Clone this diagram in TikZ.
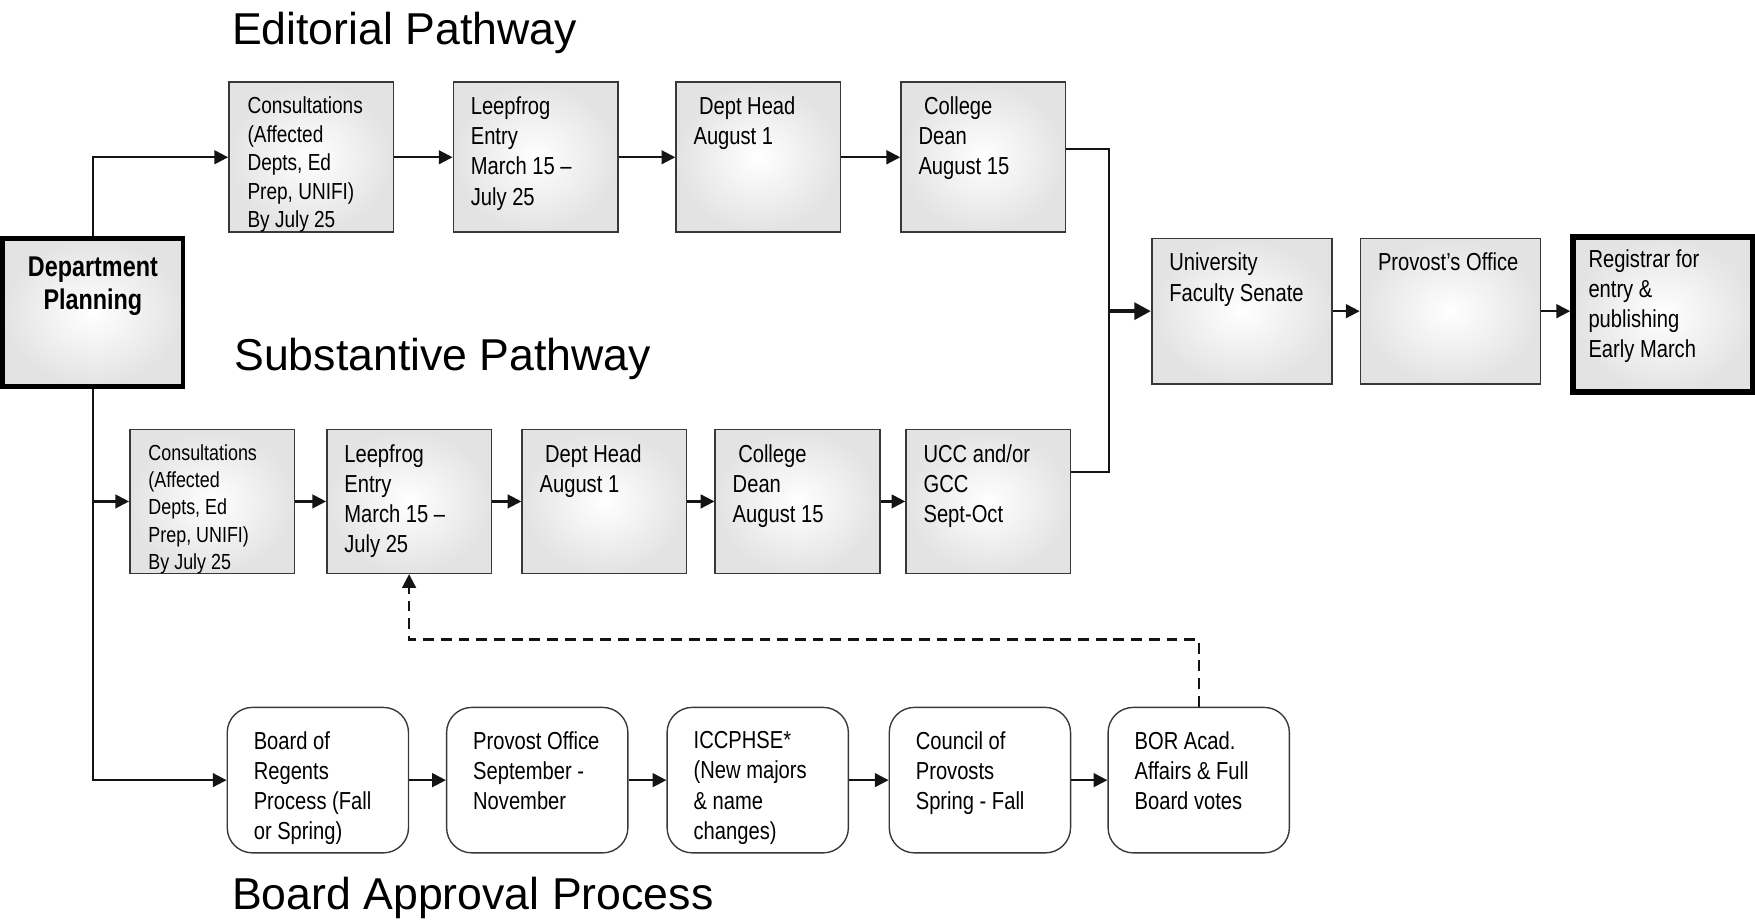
\documentclass[tikz,border=0pt]{standalone}
\usepackage{fontspec}
\setmainfont{Liberation Sans}
\newfontfamily\narrowfont[FakeStretch=0.82]{Liberation Sans}
\usetikzlibrary{arrows.meta}
\definecolor{boxgray}{gray}{0.89}
\definecolor{edgegray}{gray}{0.22}
\definecolor{linkgray}{gray}{0.08}
\begin{document}
\begin{tikzpicture}[x=0.02cm,y=-0.02cm,
stepbox/.style={draw=edgegray,line width=0.8pt,shading=radial,inner color=white,outer color=boxgray,inner sep=0pt,minimum width=2.94cm,minimum height=2.68cm},
rowbox/.style={stepbox,minimum height=2.57cm},
widebox/.style={stepbox,minimum width=3.22cm,minimum height=2.6cm},
boardbox/.style={draw=edgegray,line width=0.7pt,fill=white,rounded corners=0.45cm,inner sep=0pt,minimum width=3.24cm,minimum height=2.6cm},
txt/.style={label={[anchor=north west,xshift=0.32cm,yshift=-0.27cm,align=left,inner sep=0pt,font=\narrowfont\fontsize{12.5}{15.3}\selectfont]north west:{#1}}},
etxt/.style={label={[anchor=north west,xshift=0.34cm,yshift=-0.27cm,align=left,inner sep=0pt,font=\narrowfont\fontsize{11.8}{14.5}\selectfont]north west:{#1}}},
stxt/.style={label={[anchor=north west,xshift=0.34cm,yshift=-0.27cm,align=left,inner sep=0pt,font=\narrowfont\fontsize{11.1}{13.9}\selectfont]north west:{#1}}},
btxt/.style={label={[anchor=north west,xshift=0.48cm,yshift=-0.44cm,align=left,inner sep=0pt,font=\narrowfont\fontsize{12.5}{15.3}\selectfont]north west:{#1}}},
heading/.style={anchor=base west,inner sep=0pt,font=\fontsize{22.7}{27}\selectfont},
link/.style={draw=linkgray,line width=1.1pt,-{Triangle[length=7pt,width=7pt]}},
biglink/.style={draw=linkgray,line width=2.2pt,-{Triangle[length=8.5pt,width=8.5pt]}},
dashlink/.style={draw=linkgray,line width=1.1pt,dash pattern=on 5.5pt off 3.5pt,-{Triangle[length=7pt,width=7pt]}}]
\useasboundingbox (0,0) rectangle (1568,822);

\node[heading] (edit) at (207,40) {Editorial Pathway};
\node[heading] (subst) at (209,331) {Substantive Pathway};
\node[heading] (board) at (207,813) {Board Approval Process};

\node[widebox,draw=black,line width=2.5pt,minimum height=2.64cm,
  label={[anchor=north,yshift=-0.36cm,align=center,inner sep=0pt,font=\narrowfont\bfseries\fontsize{14.5}{17}\selectfont]north:{Department\\Planning}}] (dp) at (83,279) {};

\node[stepbox,etxt={Consultations\\(Affected\\Depts, Ed\\Prep, UNIFI)\\By July 25}] (e1) at (278,140.5) {};
\node[stepbox,txt={Leepfrog\\Entry\\March 15 –\\July 25}] (e2) at (478.5,140.5) {};
\node[stepbox,txt={\hspace*{2.8pt}Dept Head\\August 1}] (e3) at (677.5,140.5) {};
\node[stepbox,txt={\hspace*{2.8pt}College\\Dean\\August 15}] (e4) at (878.5,140.5) {};

\node[widebox,txt={University\\Faculty Senate}] (fac) at (1109.5,278) {};
\node[widebox,txt={Provost’s Office}] (prov) at (1296,278) {};
\node[widebox,draw=black,line width=3pt,minimum height=2.77cm,txt={Registrar for\\entry \&\\publishing\\Early March}] (reg) at (1486,280.75) {};

\node[rowbox,stxt={Consultations\\(Affected\\Depts, Ed\\Prep, UNIFI)\\By July 25}] (s1) at (189.5,448) {};
\node[rowbox,txt={Leepfrog\\Entry\\March 15 –\\July 25}] (s2) at (365.5,448) {};
\node[rowbox,txt={\hspace*{2.8pt}Dept Head\\August 1}] (s3) at (540,448) {};
\node[rowbox,txt={\hspace*{2.8pt}College\\Dean\\August 15}] (s4) at (712.5,448) {};
\node[rowbox,txt={UCC and/or\\GCC\\Sept-Oct}] (s5) at (883,448) {};

\node[boardbox,btxt={Board of\\Regents\\Process (Fall\\or Spring)}] (b1) at (284,697) {};
\node[boardbox,btxt={Provost Office\\September -\\November}] (b2) at (480,697) {};
\node[boardbox,btxt={ICCPHSE*\\(New majors\\\& name\\changes)}] (b3) at (677,697) {};
\node[boardbox,btxt={Council of\\Provosts\\Spring - Fall}] (b4) at (875.5,697) {};
\node[boardbox,btxt={BOR Acad.\\Affairs \& Full\\Board votes}] (b5) at (1071,697) {};

\coordinate (join) at (991,278);

\draw[link] (dp.north) |- (e1.west);
\draw[link] (dp.south) |- (s1.west);
\draw[link] (dp.south) |- (b1.west);

\foreach \from/\to in {e1/e2,e2/e3,e3/e4,s1/s2,s2/s3,s3/s4,s4/s5,b1/b2,b2/b3,b3/b4,b4/b5,fac/prov,prov/reg}
\draw[link] (\from.east) -- (\from.east -| \to.west);

\draw[draw=linkgray,line width=1.1pt] ([yshift=0.15cm]e4.east) -| (join);
\draw[draw=linkgray,line width=1.1pt] ([yshift=0.52cm]s5.east) -| (join);
\draw[biglink] (join) -- (fac.west);

\draw[dashlink] (b5.north) -- ++(0,-60) -| (s2.south);
\end{tikzpicture}
\end{document}
